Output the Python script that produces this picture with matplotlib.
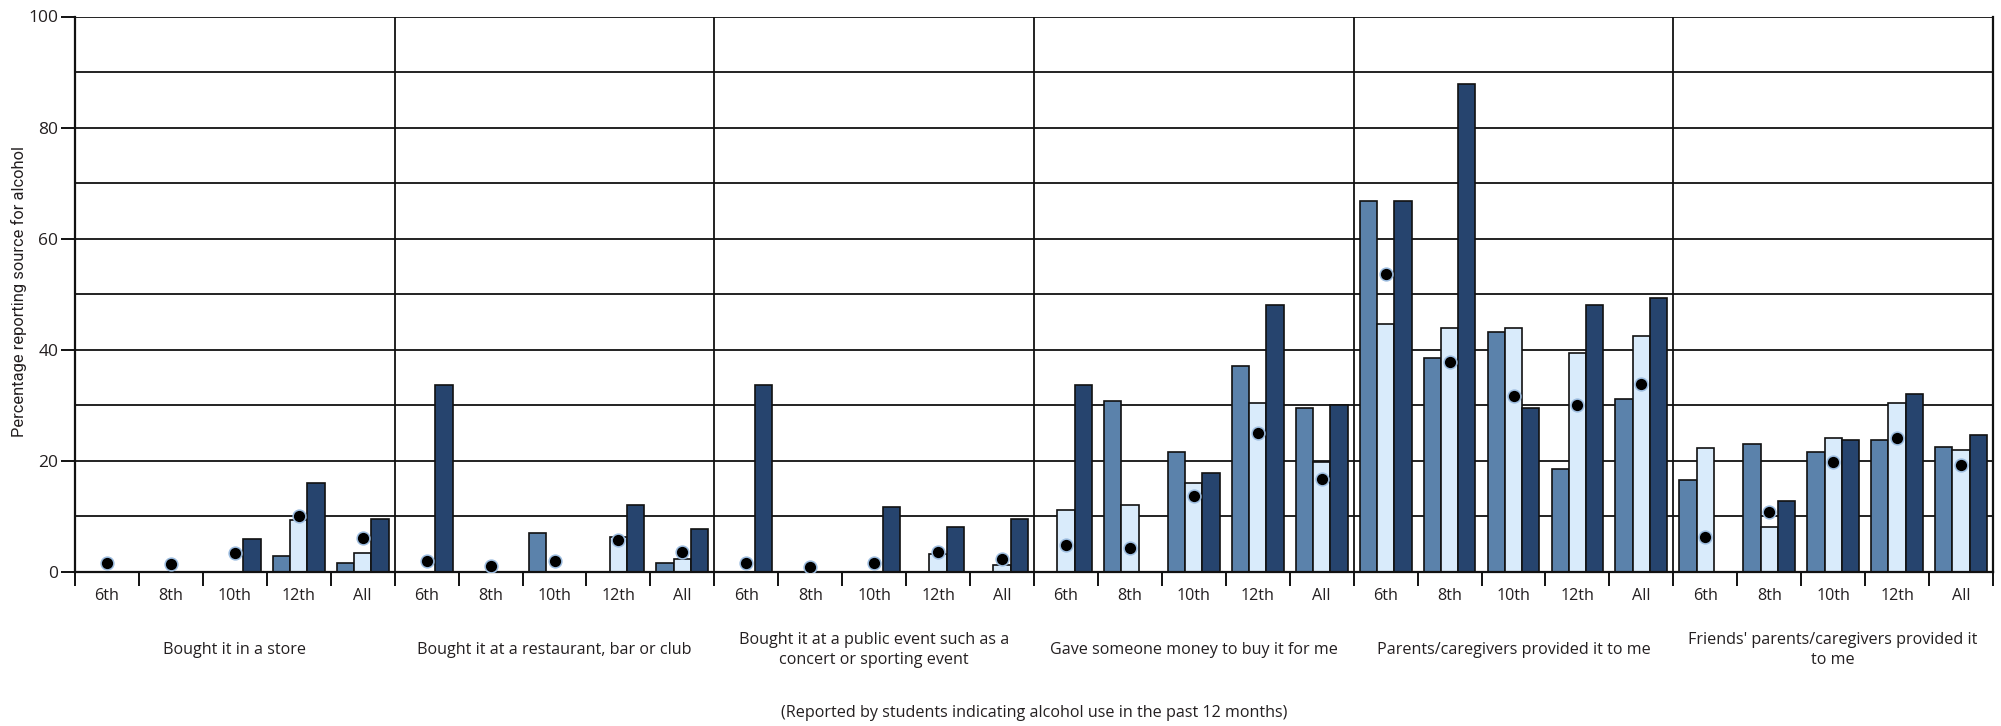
import numpy as np
import matplotlib
matplotlib.use("Agg")
import matplotlib.pyplot as plt

# ---------------- data ----------------
groups = [
    "Bought it in a store",
    "Bought it at a restaurant, bar or club",
    "Bought it at a public event such as a\nconcert or sporting event",
    "Gave someone money to buy it for me",
    "Parents/caregivers provided it to me",
    "Friends' parents/caregivers provided it\nto me",
]
grades = ["6th", "8th", "10th", "12th", "All"]

# series values, per group (5 grades each)
series_a = [  # medium blue
    [0, 0, 0, 2.8, 1.6],
    [0, 0, 7.1, 0, 1.6],
    [0, 0, 0, 0, 0],
    [0, 30.8, 21.6, 37.0, 29.5],
    [66.8, 38.5, 43.2, 18.5, 31.2],
    [16.6, 23.1, 21.6, 23.8, 22.5],
]
series_b = [  # light blue
    [0, 0, 0, 9.3, 3.5],
    [0, 0, 0, 6.3, 2.3],
    [0, 0, 0, 3.2, 1.3],
    [11.1, 12.0, 16.0, 30.4, 19.8],
    [44.6, 44.0, 44.0, 39.4, 42.4],
    [22.3, 8.1, 24.2, 30.5, 21.9],
]
series_c = [  # dark navy
    [0, 0, 5.9, 16.1, 9.6],
    [33.6, 0, 0, 12.0, 7.8],
    [33.6, 0, 11.7, 8.1, 9.6],
    [33.6, 0, 17.9, 48.0, 30.1],
    [66.8, 87.8, 29.6, 48.0, 49.3],
    [0, 12.7, 23.8, 32.1, 24.7],
]
dots = [
    [1.6, 1.4, 3.5, 10.1, 6.1],
    [1.9, 1.1, 1.9, 5.7, 3.6],
    [1.6, 0.9, 1.6, 3.6, 2.4],
    [4.9, 4.4, 13.6, 25.1, 16.8],
    [53.7, 37.8, 31.6, 30.0, 33.8],
    [6.3, 10.8, 19.8, 24.2, 19.3],
]

y_label = "Percentage reporting source for alcohol"
note = "(Reported by students indicating alcohol use in the past 12 months)"

# ---------------- styling ----------------
col_a = "#5b82ab"
col_b = "#d9ebfb"
col_c = "#26446e"
txt_col = "#231f20"
line_col = "#111111"
plt.rcParams["font.family"] = ["Open Sans", "DejaVu Sans"]
fs = 11.6

W, H = 2001, 726
fig = plt.figure(figsize=(W / 100, H / 100), dpi=100)
top_px, bot_px, left_px, right_px = 16.5, 572, 75, 1993
ax = fig.add_axes([left_px / W, (H - bot_px) / H,
                   (right_px - left_px) / W, (bot_px - top_px) / H])

n_g = len(groups)
n_s = len(grades)
pos = np.arange(n_g * n_s, dtype=float)
a = np.array(series_a).ravel()
b = np.array(series_b).ravel()
c = np.array(series_c).ravel()
d = np.array(dots).ravel()

bw = 0.27
kw = dict(width=bw, edgecolor=line_col, linewidth=1.2, zorder=3)
ax.bar(pos - bw, a, color=col_a, **kw)
ax.bar(pos, b, color=col_b, **kw)
ax.bar(pos + bw, c, color=col_c, **kw)

ax.plot(pos, d, linestyle="none", marker="o", markersize=9.2,
        markerfacecolor="black", markeredgecolor="#9dbde0",
        markeredgewidth=1.1, zorder=5)

ax.set_xlim(-0.5, n_g * n_s - 0.5)
ax.set_ylim(0, 100)

for yv in np.arange(10, 101, 10):
    ax.axhline(yv, color=line_col, linewidth=1.3, zorder=1)
for gi in range(1, n_g):
    ax.axvline(gi * n_s - 0.5, color=line_col, linewidth=1.3, zorder=1)

for s in ["left", "right", "bottom"]:
    ax.spines[s].set_linewidth(1.6)
    ax.spines[s].set_color(line_col)
    ax.spines[s].set_zorder(4)
ax.spines["top"].set_visible(False)

ax.set_yticks(np.arange(0, 101, 20))
ax.tick_params(axis="y", length=10, width=1.4, color=line_col,
               labelsize=12.5, labelcolor=txt_col, pad=2)

ax.set_xticks(np.arange(-0.5, n_g * n_s, 1.0))
ax.set_xticklabels([])
ax.tick_params(axis="x", length=10, width=1.4, color=line_col)

ph = bot_px - top_px
trans = ax.get_xaxis_transform()
for i, p in enumerate(pos):
    ax.text(p, -(596 - bot_px) / ph, grades[i % n_s], transform=trans,
            ha="center", va="center", fontsize=fs, color=txt_col)
for gi, g in enumerate(groups):
    ax.text(gi * n_s + (n_s - 1) / 2, -(650 - bot_px) / ph, g,
            transform=trans, ha="center", va="center", fontsize=fs,
            color=txt_col, multialignment="center", linespacing=1.25)

ax.text(0.5, -(713 - bot_px) / ph, note, transform=ax.transAxes,
        ha="center", va="center", fontsize=fs, color=txt_col)

ylab = fig.text(19 / W, (H - 292) / H, y_label, rotation=90, ha="center",
                va="center", fontsize=12, color=txt_col,
                family=["Roboto", "DejaVu Sans"])
# fit label length to ~291 px
r = fig.canvas.get_renderer()
ext = ylab.get_window_extent(renderer=r)
ylab.set_fontsize(12 * 291.0 / ext.height)

fig.savefig("out.png", dpi=100, facecolor="white")
